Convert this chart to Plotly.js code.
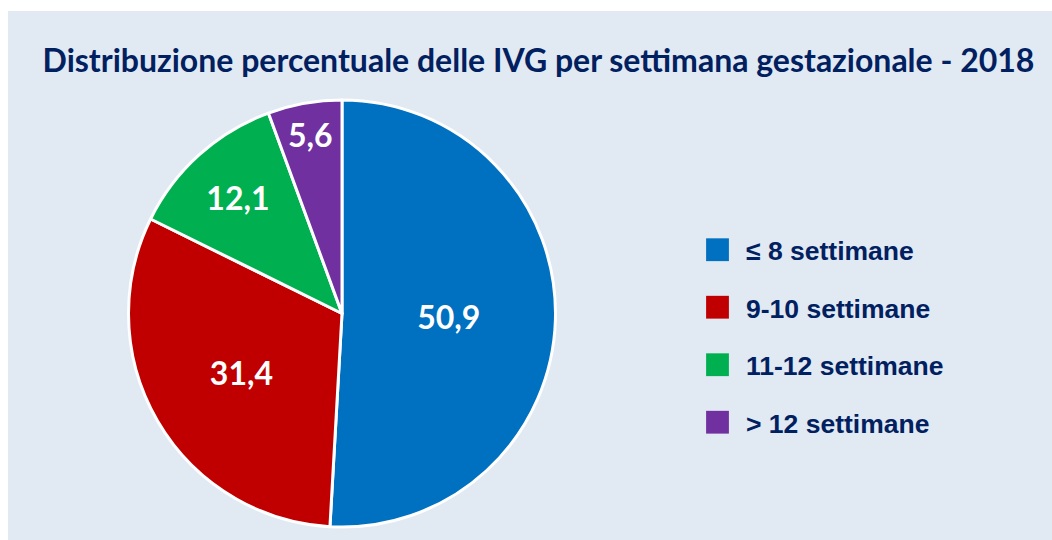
<!DOCTYPE html>
<html>
<head>
<meta charset="utf-8">
<script src="https://cdn.plot.ly/plotly-3.0.1.min.js"></script>
<style>
  html, body { margin: 0; padding: 0; background: #ffffff; }
  #chart { width: 1052px; height: 540px; }
</style>
</head>
<body>
<div id="chart"></div>
<script>
// ---- data ----
const categories = ['≤ 8 settimane', '9-10 settimane', '11-12 settimane', '> 12 settimane'];
const percentages = [50.9, 31.4, 12.1, 5.6];
const sliceColors = ['#0070C0', '#C00000', '#00B050', '#7030A0'];
const chartTitle = 'Distribuzione percentuale delle IVG per settimana gestazionale - 2018';

const W = 1052, H = 540;
const navy = '#002060';

const trace = {
  type: 'pie',
  labels: categories,
  values: percentages,
  sort: false,
  direction: 'clockwise',
  rotation: 0,
  marker: { colors: sliceColors, line: { color: '#ffffff', width: 3 } },
  texttemplate: '%{value:.1f}',
  textposition: 'inside',
  insidetextorientation: 'horizontal',
  textfont: { family: 'Lato, "Open Sans", sans-serif', size: 32, color: '#ffffff', weight: 'bold' },
  hoverinfo: 'label+percent',
  domain: { x: [(342 - 214) / W, (342 + 214) / W], y: [1 - 527 / H, 1 - 100 / H] },
  showlegend: true
};

const layout = {
  width: W,
  height: H,
  margin: { l: 0, r: 0, t: 0, b: 0 },
  paper_bgcolor: '#ffffff',
  separators: ',.',
  uniformtext: { mode: 'show', minsize: 32 },
  title: {
    text: chartTitle,
    font: { family: 'Lato, "Open Sans", sans-serif', size: 32, color: navy, weight: 'bold' },
    x: 538.5 / W, xanchor: 'center', xref: 'paper',
    y: 1 - 61 / H, yanchor: 'middle', yref: 'container'
  },
  shapes: [{
    type: 'rect', xref: 'paper', yref: 'paper', layer: 'below',
    x0: 8 / W, x1: 1, y0: 0, y1: 1 - 11 / H,
    fillcolor: '#E1E9F3', line: { width: 0 }
  }],
  legend: {
    x: 698 / W, xanchor: 'left',
    y: 1 - 226 / H, yanchor: 'top',
    bgcolor: 'rgba(0,0,0,0)',
    font: { family: '"Liberation Sans", Arial, sans-serif', size: 26.5, color: navy, weight: 'bold' },
    itemwidth: 38
  }
};

const legendRowStep = 57.5;

Plotly.newPlot('chart', [trace], layout, { displayModeBar: false, staticPlot: true }).then(function (gd) {
  // enlarge the legend colour squares to match the reference
  gd.querySelectorAll('.legend path.legendpie').forEach(function (p) {
    p.setAttribute('transform', 'translate(19.5,0) scale(1.9)');
    p.style.strokeWidth = '0';
  });
  // spread the legend rows like in the reference
  const sb = gd.querySelector('.legend .scrollbox');
  if (sb) sb.removeAttribute('clip-path');
  const items = gd.querySelectorAll('.legend g.traces');
  let y0 = null;
  items.forEach(function (g, i) {
    const tr = g.getAttribute('transform') || '';
    const m = tr.match(/translate\(\s*([-\d.eE]+)[ ,]+([-\d.eE]+)/);
    const x = m ? parseFloat(m[1]) : 0;
    const y = m ? parseFloat(m[2]) : 0;
    if (y0 === null) y0 = y;
    g.setAttribute('transform', 'translate(' + x + ',' + (y0 + i * legendRowStep) + ')');
  });
});
</script>
</body>
</html>
